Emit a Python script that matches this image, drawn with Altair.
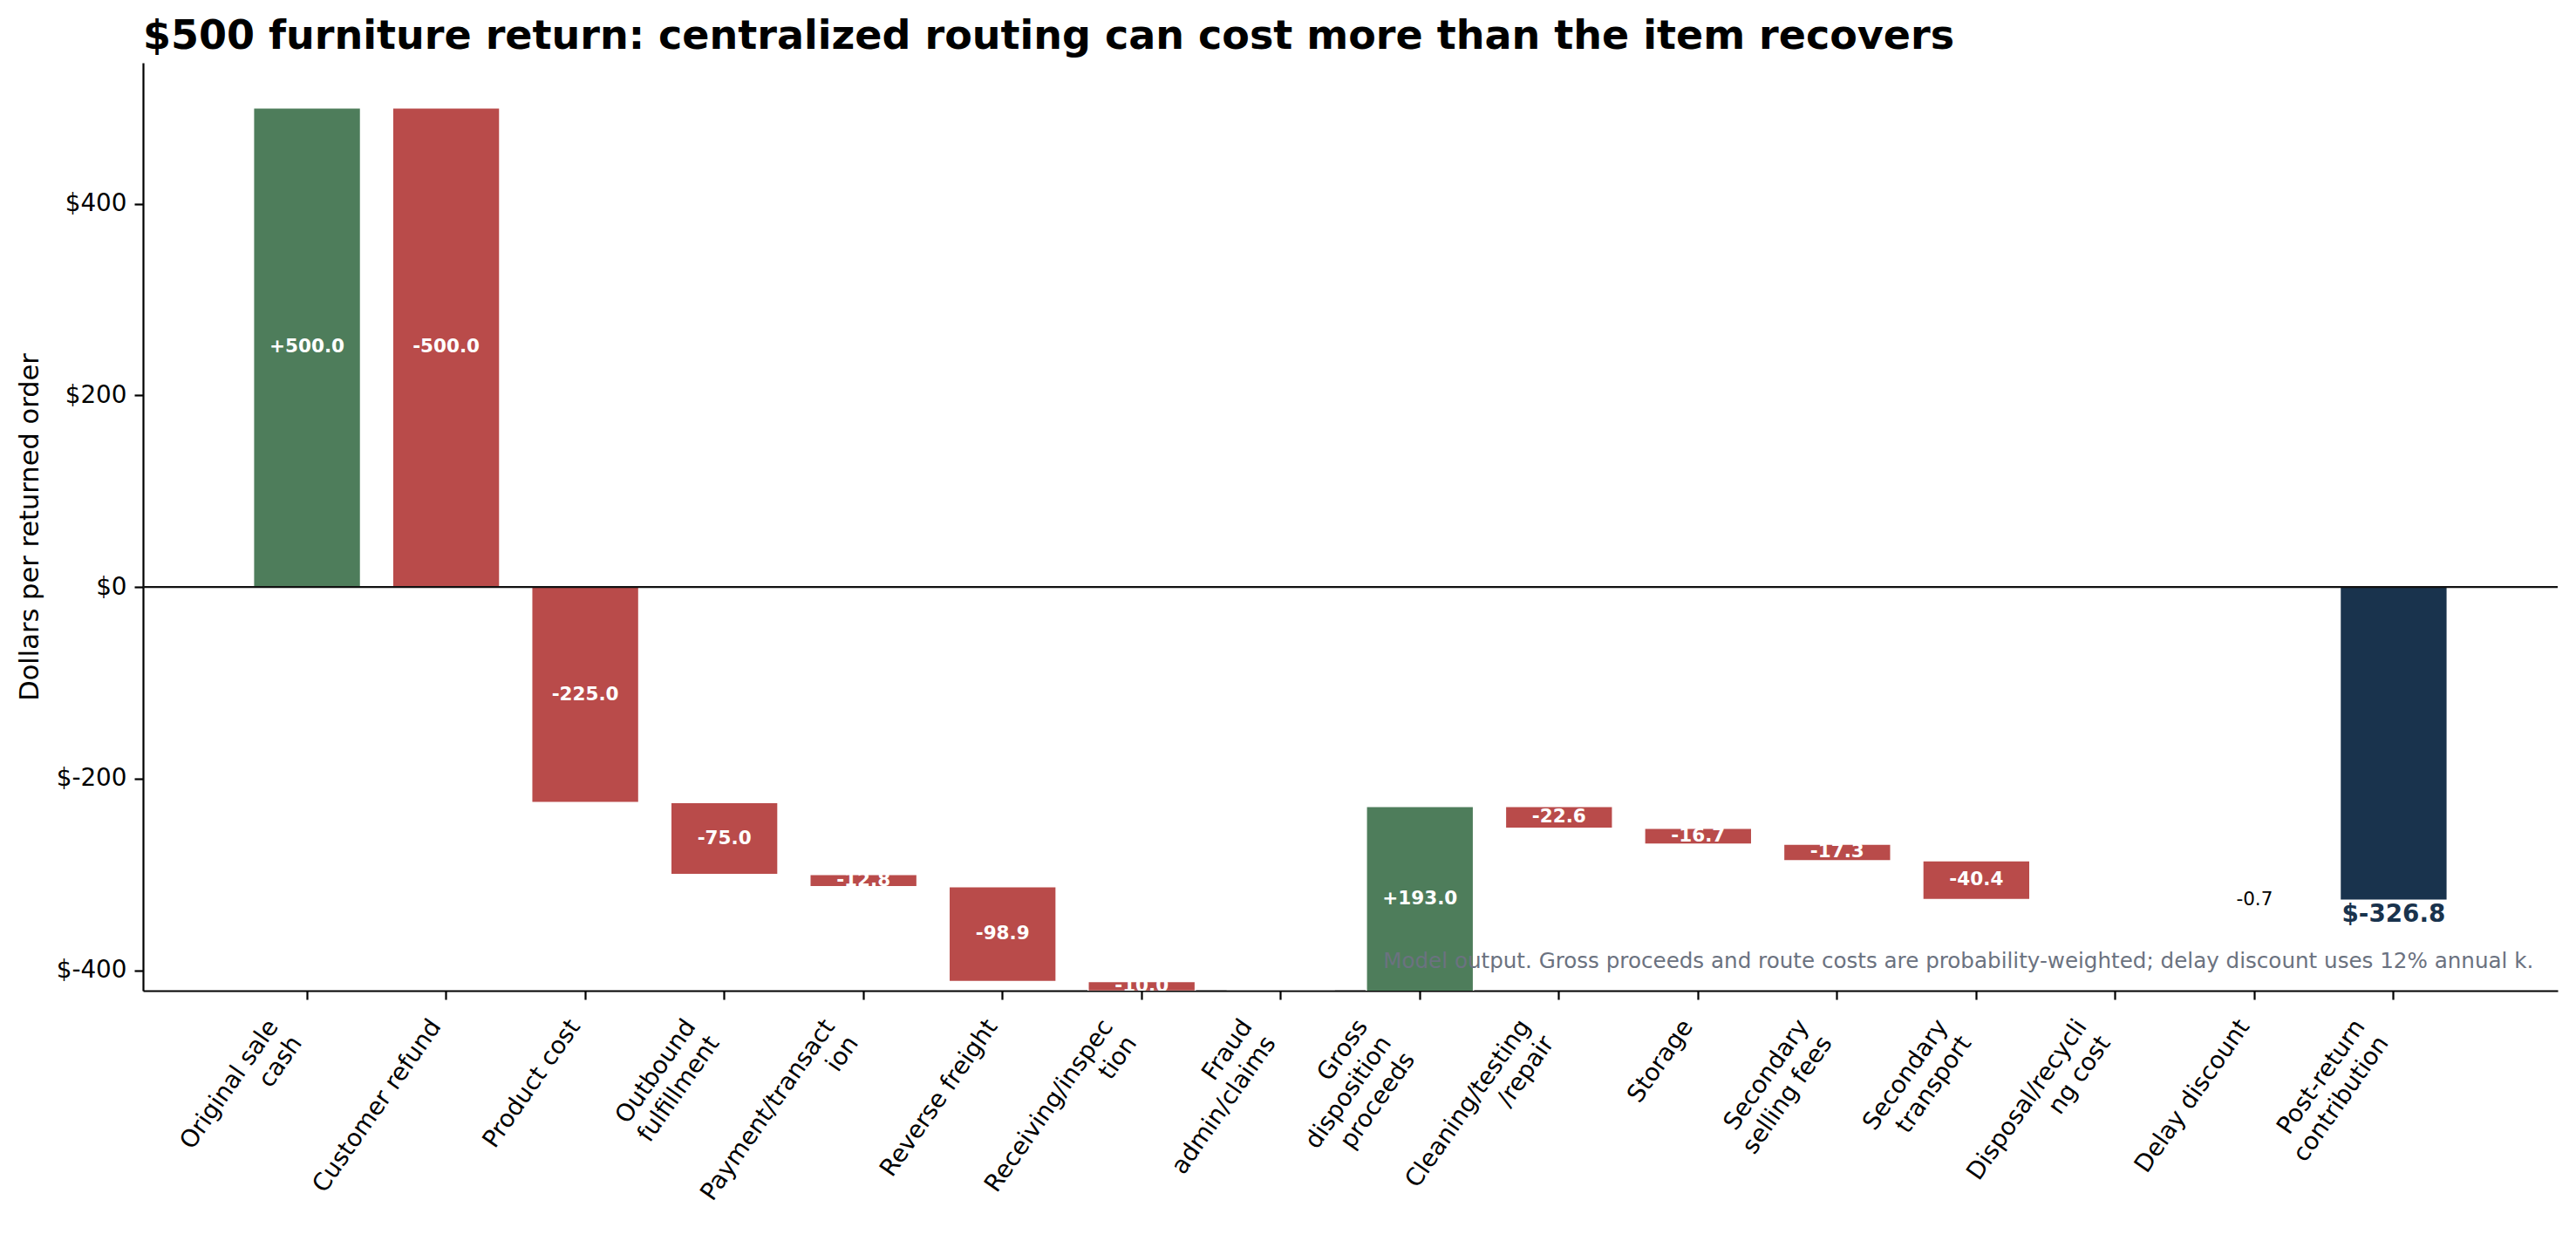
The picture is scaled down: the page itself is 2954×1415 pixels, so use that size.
import altair as alt
import pandas as pd

# Waterfall steps for a returned $500 furniture order (dollars per returned order)
steps = [
    "Original sale\ncash", "Customer refund", "Product cost", "Outbound\nfulfillment",
    "Payment/transact\nion", "Reverse freight", "Receiving/inspec\ntion", "Fraud\nadmin/claims",
    "Gross\ndisposition\nproceeds", "Cleaning/testing\n/repair", "Storage", "Secondary\nselling fees",
    "Secondary\ntransport", "Disposal/recycli\nng cost", "Delay discount",
]
deltas = [500.0, -500.0, -225.0, -75.0, -12.8, -98.9, -10.0, -0.4,
          193.0, -22.6, -16.7, -17.3, -40.4, 0.0, -0.7]
total_step = "Post-return\ncontribution"
total_value = -326.8
y_ticks = [-400, -200, 0, 200, 400]

title_text = "$500 furniture return: centralized routing can cost more than the item recovers"
note_text = ("Model output. Gross proceeds and route costs are probability-weighted; "
             "delay discount uses 12% annual k.")

GREEN, RED, NAVY = "#4E7D5B", "#B94B4A", "#19334D"
FONT = "DejaVu Sans"
W, H = 2769, 1064

# running totals -> floating bar segments
rows, running = [], 0.0
for name, d in zip(steps, deltas):
    start, end = running, running + d
    running = end
    show = abs(d) >= 0.5
    rows.append(dict(step=name, start=start, end=end, mid=(start + end) / 2,
                     kind="gain" if d > 0 else "loss",
                     label=f"{d:+.1f}" if show else "",
                     inside=show and abs(d) >= 5, small=show and abs(d) < 5))
rows.append(dict(step=total_step, start=0.0, end=total_value, mid=total_value / 2,
                 kind="total", label=f"${total_value:.1f}", inside=False, small=False))
df = pd.DataFrame(rows)
order = list(df["step"])

# rotated, right-aligned category labels; shift multi-line labels so their
# rotated block ends at the tick
x_axis = alt.Axis(
    title=None, labelAngle=305, labelAlign="right", labelBaseline="top",
    labelExpr="split(datum.value, '\\n')", labelLineHeight=33, labelFontSize=27.8,
    labelFont=FONT, labelColor="black", labelPadding=18, labelLimit=0, labelOverlap=False,
    labelOffset={"condition": [
        {"test": "indexof(datum.value, '\\n') < 0", "value": -23},
        {"test": "length(split(datum.value, '\\n')) > 2", "value": -77},
    ], "value": -50},
    tickSize=10, tickWidth=2.2, tickColor="black", domainColor="black", domainWidth=2.2,
)
y_axis = alt.Axis(
    values=y_ticks, labelExpr="'$' + datum.value", labelFontSize=27.8, labelFont=FONT,
    labelColor="black", labelPadding=9, tickSize=10, tickWidth=2.2, tickColor="black",
    domainColor="black", domainWidth=2.2, grid=False,
    title="Dollars per returned order", titleFontSize=30.5, titleFont=FONT,
    titleFontWeight="normal", titleColor="black", titleX=-130, titleY=H / 2,
    titleAngle=270, titleAlign="center", titleBaseline="middle",
)

x_enc = alt.X("step:N", sort=order,
              scale=alt.Scale(paddingInner=0.23, paddingOuter=0.794), axis=x_axis)
x_plain = alt.X("step:N", sort=order)
y_scale = alt.Scale(domain=[-421.3, 547], nice=False, zero=False)

base = alt.Chart(df)

bars = base.mark_bar(clip=True, stroke="white", strokeWidth=1.5).encode(
    x=x_enc,
    y=alt.Y("start:Q", scale=y_scale, axis=y_axis),
    y2="end:Q",
    color=alt.Color("kind:N", legend=None,
                    scale=alt.Scale(domain=["gain", "loss", "total"], range=[GREEN, RED, NAVY])),
)

zero_line = alt.Chart(pd.DataFrame({"y": [0]})).mark_rule(
    color="#111111", strokeWidth=2.2).encode(y=alt.Y("y:Q", scale=y_scale))

inside_labels = base.transform_filter("datum.inside").mark_text(
    clip=True, color="white", fontWeight="bold", fontSize=21.5, font=FONT,
    align="center", baseline="middle",
).encode(x=x_plain, y=alt.Y("mid:Q", scale=y_scale), text="label:N")

small_labels = base.transform_filter("datum.small").mark_text(
    clip=True, color="black", fontSize=21.5, font=FONT, align="center", baseline="middle",
).encode(x=x_plain, y=alt.Y("mid:Q", scale=y_scale), text="label:N")

total_label = base.transform_filter("datum.kind == 'total'").mark_text(
    color=NAVY, fontWeight="bold", fontSize=27.8, font=FONT,
    align="center", baseline="top", dy=3,
).encode(x=x_plain, y=alt.Y("end:Q", scale=y_scale), text="label:N")

note = alt.Chart(pd.DataFrame({"t": [note_text]})).mark_text(
    color="#6B7280", fontSize=24.6, font=FONT, align="right", baseline="bottom",
).encode(x=alt.value(W * 0.99), y=alt.value(H * 0.98), text="t:N")

chart = alt.layer(bars, zero_line, inside_labels, small_labels, total_label, note).properties(
    width=W, height=H,
    background="white",
    title=alt.TitleParams(title_text, anchor="start", frame="group", fontSize=46,
                          fontWeight="bold", font=FONT, color="black", offset=6),
    autosize=alt.AutoSizeParams(type="none"),
    padding={"left": 164, "top": 72, "right": 21, "bottom": 279},
).configure_view(stroke=None)

chart.save("out.html", embed_options={"renderer": "svg", "actions": False})
